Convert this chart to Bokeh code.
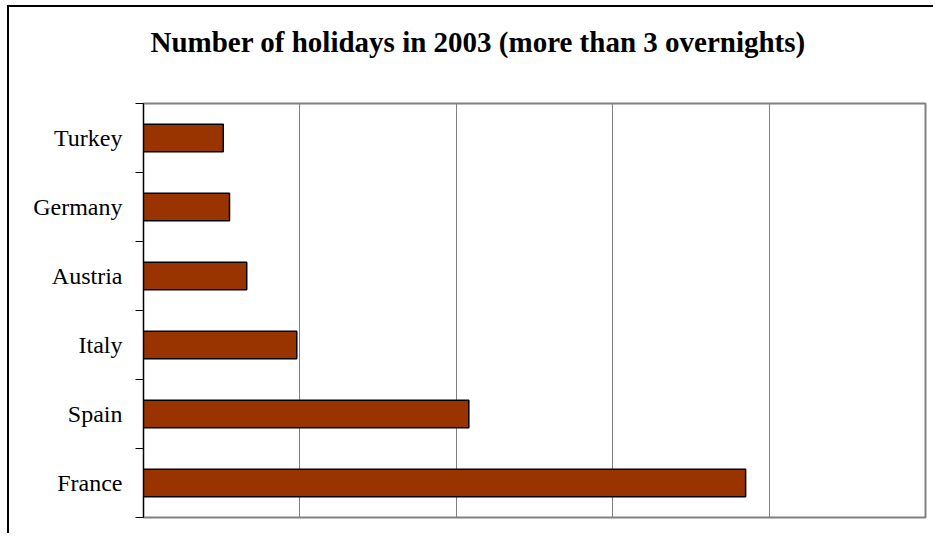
from bokeh.plotting import figure
from bokeh.models import Range1d, FixedTicker, ColumnDataSource, Title
from bokeh.embed import file_html
from bokeh.resources import INLINE

title_text = "Number of holidays in 2003 (more than 3 overnights)"
countries = ["Turkey", "Germany", "Austria", "Italy", "Spain", "France"]
holidays = [0.51, 0.55, 0.66, 0.98, 2.08, 3.85]
x_grid = [0, 1, 2, 3, 4, 5]

n = len(countries)
ypos = [n - i - 0.5 for i in range(n)]
src = ColumnDataSource(dict(y=ypos, v=holidays, name=countries))

p = figure(width=926, height=528, output_backend="svg", toolbar_location=None,
           x_range=Range1d(0, 5), y_range=Range1d(0, n),
           min_border_left=134, min_border_right=10, min_border_top=96, min_border_bottom=18)

p.title.text = title_text
p.title.text_font = "Liberation Serif"
p.title.text_font_size = "29px"
p.title.text_font_style = "bold"
p.title.text_color = "black"
p.title.align = "left"
p.title.offset = 7
p.title.standoff = 10

# spacer between the title and the plot area (white on white)
spacer = Title(text="x", text_font_size="1px", text_color="white", standoff=38)
p.add_layout(spacer, "above")

p.hbar(y="y", right="v", left=0, height=0.4, source=src,
       fill_color="#993300", line_color="black", line_width=1.5)

p.xaxis.visible = False
p.xgrid.ticker = FixedTicker(ticks=x_grid)
p.xgrid.grid_line_color = "#808080"
p.xgrid.grid_line_width = 1
p.ygrid.visible = False

ya = p.yaxis[0]
ya.ticker = FixedTicker(ticks=ypos, minor_ticks=list(range(n + 1)))
ya.major_label_overrides = {y: c for y, c in zip(ypos, countries)}
ya.major_tick_line_color = None
ya.major_tick_out = 0
ya.major_tick_in = 0
ya.minor_tick_out = 8
ya.minor_tick_in = 0
ya.minor_tick_line_color = "black"
ya.axis_line_color = "black"
ya.major_label_standoff = 13
ya.major_label_text_font = "Liberation Serif"
ya.major_label_text_font_size = "24px"
ya.major_label_text_color = "black"

p.outline_line_color = "#808080"
p.outline_line_width = 2
p.background_fill_color = "white"
p.border_fill_color = "white"
p.styles = {"border-left": "2px solid black", "border-top": "2px solid black",
            "margin-left": "7px", "margin-top": "5px"}

open("out.html", "w").write(file_html(p, INLINE))
